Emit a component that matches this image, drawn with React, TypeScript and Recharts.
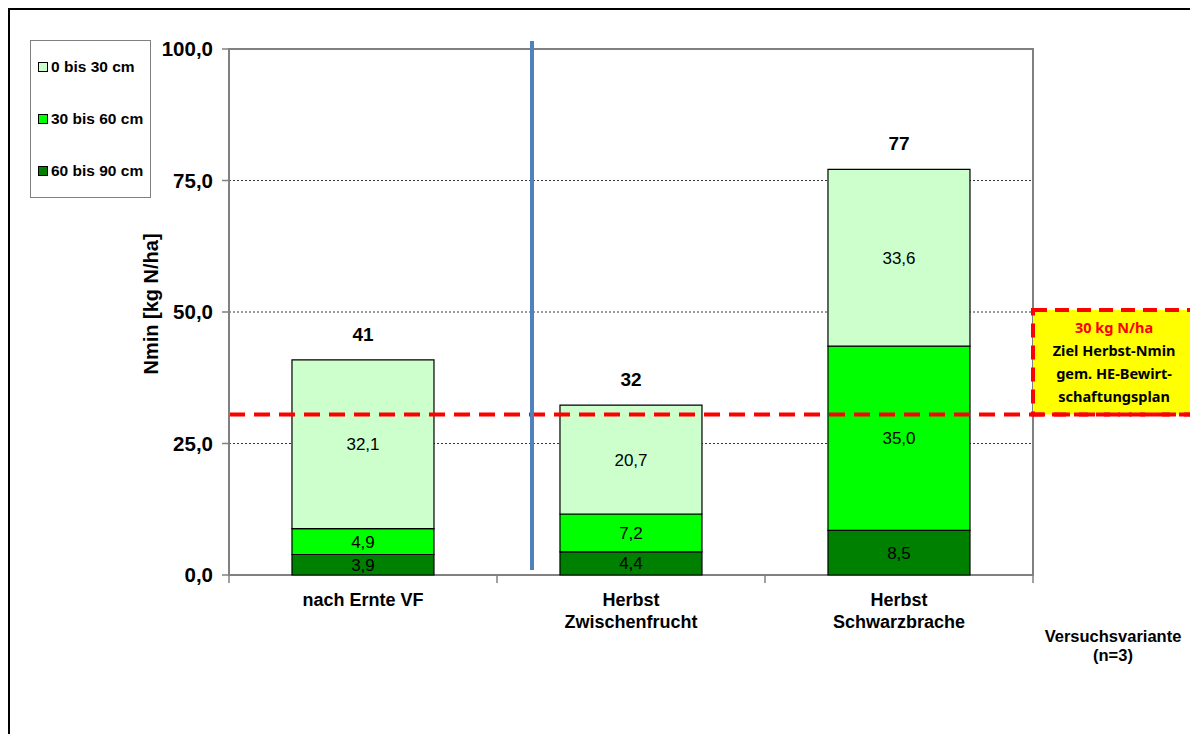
import React from 'react';
import {
  BarChart, Bar, XAxis, YAxis, CartesianGrid, LabelList, ReferenceLine, ReferenceArea,
} from 'recharts';

const categories = ['nach Ernte VF', 'Herbst\nZwischenfrucht', 'Herbst\nSchwarzbrache'];
const positions = [0.5, 1.5, 2.5];
const depth60to90 = [3.9, 4.4, 8.5];
const depth30to60 = [4.9, 7.2, 35.0];
const depth0to30 = [32.1, 20.7, 33.6];
const totals = [41, 32, 77];
const yTicks = [0, 25, 50, 75, 100];
const targetValue = 30.5;
const boxLines = ['30 kg N/ha', 'Ziel Herbst-Nmin', 'gem. HE-Bewirt-', 'schaftungsplan'];

const series = [
  { key: 'd0', name: '0 bis 30 cm', color: '#CCFFCC' },
  { key: 'd30', name: '30 bis 60 cm', color: '#00FF00' },
  { key: 'd60', name: '60 bis 90 cm', color: '#008000' },
];

const data = categories.map((c, i) => ({
  name: c,
  pos: positions[i],
  d60: depth60to90[i],
  d30: depth30to60[i],
  d0: depth0to30[i],
  total: totals[i],
}));

const FONT = '"Liberation Sans", Arial, sans-serif';
const fmt = (v: any) => Number(v).toFixed(1).replace('.', ',');

// category names drawn below the axis; the axis itself takes almost no height
const CategoryTick = ({ x, y, payload }: any) => {
  const lines = String(payload.value).split('\n');
  return (
    <text x={x} y={y} textAnchor="middle" fontFamily={FONT} fontWeight="bold" fontSize={18} fill="#000">
      {lines.map((l, i) => (
        <tspan key={i} x={x} dy={i === 0 ? 31 : 22}>{l}</tspan>
      ))}
    </text>
  );
};

const BoxLabel = ({ viewBox }: any) => {
  const cx = viewBox.x + viewBox.width / 2;
  const top = viewBox.y;
  return (
    <text textAnchor="middle" fontFamily='"Noto Sans", sans-serif' fontWeight="bold" fontSize={14.5}>
      {boxLines.map((l, i) => (
        <tspan key={i} x={cx} y={top + 23 + i * 23} fill={i === 0 ? '#FF0000' : '#000'}>{l}</tspan>
      ))}
    </text>
  );
};

export default function App() {
  return (
    <div style={{
      position: 'relative', width: 1190, height: 726, boxSizing: 'border-box',
      borderLeft: '2px solid #000', borderTop: '2px solid #000', background: '#fff', overflow: 'hidden',
    }}>
      <style>{'body{margin:8px;overflow:hidden;}'}</style>
      <BarChart
        width={1188}
        height={724}
        data={data}
        margin={{ top: 39, right: 165, bottom: 150, left: 139 }}
        barCategoryGap="23.5%"
        style={{ position: 'absolute', left: 0, top: 0, overflow: 'visible' }}
      >
        <CartesianGrid xAxisId="ticks" vertical={false} stroke="#000" strokeDasharray="2 2" strokeWidth={0.8} />
        <XAxis
          xAxisId="ticks"
          dataKey="pos"
          type="number"
          domain={[0, 3]}
          ticks={[0, 1, 2, 3]}
          tickFormatter={() => ''}
          axisLine={false}
          tickLine={{ stroke: '#808080', strokeWidth: 1.5 }}
          tickSize={7}
          height={8}
          allowDataOverflow
        />
        <XAxis
          xAxisId="cat"
          dataKey="name"
          interval={0}
          tickLine={false}
          tickSize={0}
          tickMargin={0}
          height={1}
          axisLine={false}
          tick={<CategoryTick />}
        />
        <YAxis
          domain={[0, 100]}
          ticks={yTicks}
          width={80}
          tickFormatter={fmt}
          tickSize={7}
          tickMargin={9}
          axisLine={{ stroke: '#808080', strokeWidth: 2 }}
          tickLine={{ stroke: '#808080', strokeWidth: 1.5 }}
          tick={{ fill: '#000', fontFamily: FONT, fontWeight: 'bold', fontSize: 20.5 }}
          label={{
            content: ({ viewBox }: any) => (
              <text
                x={viewBox.x + 2}
                y={294}
                transform={`rotate(-90 ${viewBox.x + 2} 294)`}
                textAnchor="middle"
                dominantBaseline="central"
                fontFamily={FONT}
                fontWeight="bold"
                fontSize={20}
                fill="#000"
              >
                Nmin [kg N/ha]
              </text>
            ),
          }}
        />
        <ReferenceArea
          xAxisId="ticks"
          x1={0}
          x2={3}
          y1={0}
          y2={100}
          fill="none"
          stroke="#808080"
          strokeWidth={2}
          ifOverflow="visible"
        />
        <Bar xAxisId="cat" dataKey="d60" stackId="a" fill="#008000" stroke="#000" strokeWidth={1.2} isAnimationActive={false}>
          <LabelList dataKey="d60" position="center" formatter={fmt} fill="#000" fontFamily={FONT} fontSize={17} />
        </Bar>
        <Bar xAxisId="cat" dataKey="d30" stackId="a" fill="#00FF00" stroke="#000" strokeWidth={1.2} isAnimationActive={false}>
          <LabelList dataKey="d30" position="center" formatter={fmt} fill="#000" fontFamily={FONT} fontSize={17} />
        </Bar>
        <Bar xAxisId="cat" dataKey="d0" stackId="a" fill="#CCFFCC" stroke="#000" strokeWidth={1.2} isAnimationActive={false}>
          <LabelList dataKey="d0" position="center" formatter={fmt} fill="#000" fontFamily={FONT} fontSize={17} />
          <LabelList dataKey="total" position="top" offset={19} fill="#000" fontFamily={FONT} fontWeight="bold" fontSize={19} />
        </Bar>
        <ReferenceArea
          xAxisId="ticks"
          x1={3.0}
          x2={3.605}
          y1={targetValue}
          y2={50.4}
          fill="#FFFF00"
          fillOpacity={1}
          stroke="#FF0000"
          strokeWidth={4}
          strokeDasharray="14 8"
          ifOverflow="visible"
          label={<BoxLabel />}
        />
        <ReferenceLine
          xAxisId="ticks"
          segment={[{ x: 0, y: targetValue }, { x: 3.62, y: targetValue }]}
          stroke="#FF0000"
          strokeWidth={4}
          strokeDasharray="16 9"
          ifOverflow="visible"
        />
        <ReferenceLine
          xAxisId="ticks"
          segment={[{ x: 1.1306, y: 101.5 }, { x: 1.1306, y: 0.95 }]}
          stroke="#4F81BD"
          strokeWidth={4}
          ifOverflow="visible"
        />
      </BarChart>

      <div style={{
        position: 'absolute', left: 20, top: 30, width: 121, height: 158, boxSizing: 'border-box',
        border: '1px solid #808080', background: '#fff', fontFamily: FONT, fontWeight: 'bold', fontSize: 15.5,
      }}>
        {series.map((s, i) => (
          <div key={s.key} style={{
            position: 'absolute', left: 7, top: 17 + i * 52, display: 'flex', alignItems: 'center', whiteSpace: 'nowrap',
          }}>
            <span style={{
              display: 'inline-block', width: 8, height: 8, background: s.color, border: '1px solid #000', marginRight: 3,
            }} />
            {s.name}
          </div>
        ))}
      </div>

      <div style={{
        position: 'absolute', left: 1003, top: 617, width: 200, textAlign: 'center',
        fontFamily: FONT, fontWeight: 'bold', fontSize: 16.5, lineHeight: '19px',
      }}>
        Versuchsvariante<br />(n=3)
      </div>
    </div>
  );
}
